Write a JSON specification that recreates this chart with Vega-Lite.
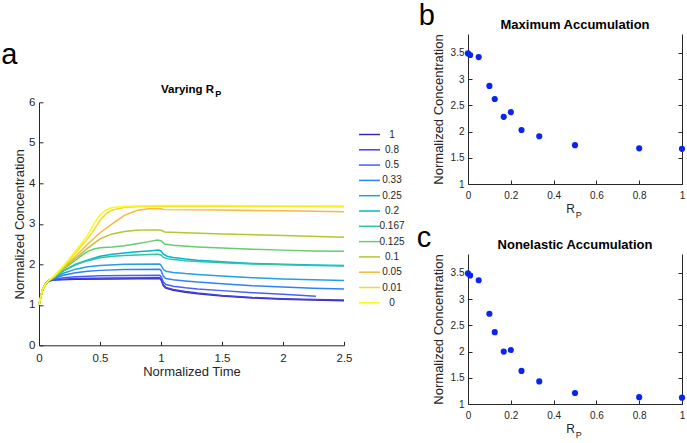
{
  "$schema": "https://vega.github.io/schema/vega-lite/v6.json",
  "padding": {"left": 1, "top": 1, "right": 2, "bottom": 2},
  "background": "white",
  "config": {
    "view": {"stroke": null},
    "font": "Liberation Sans",
    "axis": {
      "domainColor": "#262626", "tickColor": "#262626", "labelColor": "#262626", "titleColor": "#262626",
      "titleFontWeight": "normal", "grid": false, "tickSize": -4, "domainWidth": 1, "tickWidth": 1,
      "labelFont": "Liberation Sans", "titleFont": "Liberation Sans", "labelFlush": false, "labelOverlap": false
    }
  },
  "datasets": {
    "curves": [
      {"rp":"1","t":0,"c":1},{"rp":"1","t":0.015,"c":1.2},{"rp":"1","t":0.03,"c":1.38},{"rp":"1","t":0.05,"c":1.5},{"rp":"1","t":0.08,"c":1.59},{"rp":"1","t":0.12,"c":1.61},{"rp":"1","t":0.3,"c":1.63},{"rp":"1","t":0.6,"c":1.64},{"rp":"1","t":0.99,"c":1.65},{"rp":"1","t":1.0,"c":1.62},{"rp":"1","t":1.02,"c":1.47},{"rp":"1","t":1.04,"c":1.41},{"rp":"1","t":1.1,"c":1.36},{"rp":"1","t":1.2,"c":1.31},{"rp":"1","t":1.3,"c":1.27},{"rp":"1","t":1.5,"c":1.22},{"rp":"1","t":1.75,"c":1.17},{"rp":"1","t":2.0,"c":1.14},{"rp":"1","t":2.25,"c":1.12},{"rp":"1","t":2.5,"c":1.1},
      {"rp":"0.8","t":0,"c":1},{"rp":"0.8","t":0.015,"c":1.2},{"rp":"0.8","t":0.03,"c":1.38},{"rp":"0.8","t":0.05,"c":1.5},{"rp":"0.8","t":0.08,"c":1.59},{"rp":"0.8","t":0.12,"c":1.62},{"rp":"0.8","t":0.3,"c":1.65},{"rp":"0.8","t":0.6,"c":1.66},{"rp":"0.8","t":0.99,"c":1.67},{"rp":"0.8","t":1.0,"c":1.64},{"rp":"0.8","t":1.02,"c":1.49},{"rp":"0.8","t":1.04,"c":1.43},{"rp":"0.8","t":1.1,"c":1.38},{"rp":"0.8","t":1.2,"c":1.33},{"rp":"0.8","t":1.3,"c":1.29},{"rp":"0.8","t":1.5,"c":1.23},{"rp":"0.8","t":1.75,"c":1.18},{"rp":"0.8","t":2.0,"c":1.15},{"rp":"0.8","t":2.25,"c":1.13},{"rp":"0.8","t":2.5,"c":1.12},
      {"rp":"0.5","t":0,"c":1},{"rp":"0.5","t":0.015,"c":1.2},{"rp":"0.5","t":0.03,"c":1.38},{"rp":"0.5","t":0.05,"c":1.5},{"rp":"0.5","t":0.08,"c":1.6},{"rp":"0.5","t":0.12,"c":1.63},{"rp":"0.5","t":0.2,"c":1.67},{"rp":"0.5","t":0.3,"c":1.69},{"rp":"0.5","t":0.5,"c":1.72},{"rp":"0.5","t":0.99,"c":1.73},{"rp":"0.5","t":1.0,"c":1.7},{"rp":"0.5","t":1.02,"c":1.56},{"rp":"0.5","t":1.04,"c":1.5},{"rp":"0.5","t":1.1,"c":1.46},{"rp":"0.5","t":1.2,"c":1.42},{"rp":"0.5","t":1.3,"c":1.39},{"rp":"0.5","t":1.5,"c":1.35},{"rp":"0.5","t":1.75,"c":1.3},{"rp":"0.5","t":2.0,"c":1.26},{"rp":"0.5","t":2.27,"c":1.21},
      {"rp":"0.33","t":0,"c":1},{"rp":"0.33","t":0.015,"c":1.2},{"rp":"0.33","t":0.03,"c":1.38},{"rp":"0.33","t":0.05,"c":1.5},{"rp":"0.33","t":0.08,"c":1.6},{"rp":"0.33","t":0.12,"c":1.65},{"rp":"0.33","t":0.2,"c":1.73},{"rp":"0.33","t":0.3,"c":1.79},{"rp":"0.33","t":0.4,"c":1.83},{"rp":"0.33","t":0.5,"c":1.85},{"rp":"0.33","t":0.7,"c":1.87},{"rp":"0.33","t":0.99,"c":1.88},{"rp":"0.33","t":1.0,"c":1.85},{"rp":"0.33","t":1.02,"c":1.7},{"rp":"0.33","t":1.04,"c":1.65},{"rp":"0.33","t":1.1,"c":1.62},{"rp":"0.33","t":1.2,"c":1.59},{"rp":"0.33","t":1.3,"c":1.56},{"rp":"0.33","t":1.5,"c":1.52},{"rp":"0.33","t":1.75,"c":1.47},{"rp":"0.33","t":2.0,"c":1.44},{"rp":"0.33","t":2.25,"c":1.41},{"rp":"0.33","t":2.5,"c":1.39},
      {"rp":"0.25","t":0,"c":1},{"rp":"0.25","t":0.015,"c":1.2},{"rp":"0.25","t":0.03,"c":1.38},{"rp":"0.25","t":0.05,"c":1.5},{"rp":"0.25","t":0.08,"c":1.6},{"rp":"0.25","t":0.12,"c":1.66},{"rp":"0.25","t":0.2,"c":1.78},{"rp":"0.25","t":0.3,"c":1.88},{"rp":"0.25","t":0.4,"c":1.94},{"rp":"0.25","t":0.5,"c":1.97},{"rp":"0.25","t":0.7,"c":2.0},{"rp":"0.25","t":0.99,"c":2.01},{"rp":"0.25","t":1.0,"c":1.98},{"rp":"0.25","t":1.02,"c":1.87},{"rp":"0.25","t":1.04,"c":1.83},{"rp":"0.25","t":1.1,"c":1.8},{"rp":"0.25","t":1.2,"c":1.77},{"rp":"0.25","t":1.3,"c":1.75},{"rp":"0.25","t":1.5,"c":1.71},{"rp":"0.25","t":1.75,"c":1.67},{"rp":"0.25","t":2.0,"c":1.64},{"rp":"0.25","t":2.25,"c":1.62},{"rp":"0.25","t":2.5,"c":1.6},
      {"rp":"0.2","t":0,"c":1},{"rp":"0.2","t":0.015,"c":1.2},{"rp":"0.2","t":0.03,"c":1.38},{"rp":"0.2","t":0.05,"c":1.5},{"rp":"0.2","t":0.08,"c":1.6},{"rp":"0.2","t":0.12,"c":1.67},{"rp":"0.2","t":0.2,"c":1.84},{"rp":"0.2","t":0.3,"c":2.0},{"rp":"0.2","t":0.4,"c":2.11},{"rp":"0.2","t":0.5,"c":2.2},{"rp":"0.2","t":0.6,"c":2.25},{"rp":"0.2","t":0.7,"c":2.28},{"rp":"0.2","t":0.8,"c":2.31},{"rp":"0.2","t":0.9,"c":2.33},{"rp":"0.2","t":0.98,"c":2.35},{"rp":"0.2","t":1.0,"c":2.33},{"rp":"0.2","t":1.02,"c":2.25},{"rp":"0.2","t":1.05,"c":2.2},{"rp":"0.2","t":1.1,"c":2.17},{"rp":"0.2","t":1.2,"c":2.13},{"rp":"0.2","t":1.3,"c":2.1},{"rp":"0.2","t":1.5,"c":2.06},{"rp":"0.2","t":1.75,"c":2.02},{"rp":"0.2","t":2.0,"c":2.0},{"rp":"0.2","t":2.25,"c":1.98},{"rp":"0.2","t":2.5,"c":1.97},
      {"rp":"0.167","t":0,"c":1},{"rp":"0.167","t":0.015,"c":1.2},{"rp":"0.167","t":0.03,"c":1.38},{"rp":"0.167","t":0.05,"c":1.5},{"rp":"0.167","t":0.08,"c":1.6},{"rp":"0.167","t":0.12,"c":1.67},{"rp":"0.167","t":0.2,"c":1.84},{"rp":"0.167","t":0.3,"c":1.99},{"rp":"0.167","t":0.4,"c":2.09},{"rp":"0.167","t":0.5,"c":2.16},{"rp":"0.167","t":0.6,"c":2.2},{"rp":"0.167","t":0.7,"c":2.22},{"rp":"0.167","t":0.8,"c":2.23},{"rp":"0.167","t":0.9,"c":2.24},{"rp":"0.167","t":0.98,"c":2.25},{"rp":"0.167","t":1.0,"c":2.23},{"rp":"0.167","t":1.02,"c":2.17},{"rp":"0.167","t":1.05,"c":2.14},{"rp":"0.167","t":1.1,"c":2.12},{"rp":"0.167","t":1.2,"c":2.09},{"rp":"0.167","t":1.3,"c":2.07},{"rp":"0.167","t":1.5,"c":2.04},{"rp":"0.167","t":1.75,"c":2.01},{"rp":"0.167","t":2.0,"c":1.99},{"rp":"0.167","t":2.25,"c":1.97},{"rp":"0.167","t":2.5,"c":1.96},
      {"rp":"0.125","t":0,"c":1},{"rp":"0.125","t":0.015,"c":1.2},{"rp":"0.125","t":0.03,"c":1.38},{"rp":"0.125","t":0.05,"c":1.5},{"rp":"0.125","t":0.08,"c":1.6},{"rp":"0.125","t":0.12,"c":1.68},{"rp":"0.125","t":0.2,"c":1.88},{"rp":"0.125","t":0.3,"c":2.1},{"rp":"0.125","t":0.35,"c":2.22},{"rp":"0.125","t":0.4,"c":2.32},{"rp":"0.125","t":0.45,"c":2.38},{"rp":"0.125","t":0.5,"c":2.41},{"rp":"0.125","t":0.6,"c":2.43},{"rp":"0.125","t":0.7,"c":2.46},{"rp":"0.125","t":0.8,"c":2.51},{"rp":"0.125","t":0.9,"c":2.56},{"rp":"0.125","t":0.97,"c":2.6},{"rp":"0.125","t":1.0,"c":2.58},{"rp":"0.125","t":1.03,"c":2.5},{"rp":"0.125","t":1.1,"c":2.47},{"rp":"0.125","t":1.3,"c":2.43},{"rp":"0.125","t":1.5,"c":2.4},{"rp":"0.125","t":1.75,"c":2.37},{"rp":"0.125","t":2.0,"c":2.35},{"rp":"0.125","t":2.25,"c":2.33},{"rp":"0.125","t":2.5,"c":2.32},
      {"rp":"0.1","t":0,"c":1},{"rp":"0.1","t":0.015,"c":1.2},{"rp":"0.1","t":0.03,"c":1.38},{"rp":"0.1","t":0.05,"c":1.5},{"rp":"0.1","t":0.08,"c":1.6},{"rp":"0.1","t":0.12,"c":1.68},{"rp":"0.1","t":0.2,"c":1.9},{"rp":"0.1","t":0.3,"c":2.15},{"rp":"0.1","t":0.4,"c":2.4},{"rp":"0.1","t":0.5,"c":2.63},{"rp":"0.1","t":0.6,"c":2.75},{"rp":"0.1","t":0.7,"c":2.81},{"rp":"0.1","t":0.8,"c":2.84},{"rp":"0.1","t":0.9,"c":2.85},{"rp":"0.1","t":0.97,"c":2.85},{"rp":"0.1","t":1.0,"c":2.84},{"rp":"0.1","t":1.03,"c":2.8},{"rp":"0.1","t":1.2,"c":2.78},{"rp":"0.1","t":1.5,"c":2.75},{"rp":"0.1","t":2.0,"c":2.71},{"rp":"0.1","t":2.5,"c":2.67},
      {"rp":"0.05","t":0,"c":1},{"rp":"0.05","t":0.015,"c":1.2},{"rp":"0.05","t":0.03,"c":1.38},{"rp":"0.05","t":0.05,"c":1.5},{"rp":"0.05","t":0.08,"c":1.6},{"rp":"0.05","t":0.12,"c":1.69},{"rp":"0.05","t":0.2,"c":1.92},{"rp":"0.05","t":0.3,"c":2.2},{"rp":"0.05","t":0.4,"c":2.5},{"rp":"0.05","t":0.5,"c":2.78},{"rp":"0.05","t":0.6,"c":3.0},{"rp":"0.05","t":0.7,"c":3.21},{"rp":"0.05","t":0.8,"c":3.33},{"rp":"0.05","t":0.9,"c":3.37},{"rp":"0.05","t":1.0,"c":3.37},{"rp":"0.05","t":1.03,"c":3.35},{"rp":"0.05","t":1.5,"c":3.34},{"rp":"0.05","t":2.0,"c":3.32},{"rp":"0.05","t":2.5,"c":3.3},
      {"rp":"0.01","t":0,"c":1},{"rp":"0.01","t":0.015,"c":1.2},{"rp":"0.01","t":0.03,"c":1.38},{"rp":"0.01","t":0.05,"c":1.5},{"rp":"0.01","t":0.08,"c":1.6},{"rp":"0.01","t":0.12,"c":1.69},{"rp":"0.01","t":0.2,"c":1.94},{"rp":"0.01","t":0.3,"c":2.28},{"rp":"0.01","t":0.4,"c":2.64},{"rp":"0.01","t":0.45,"c":2.85},{"rp":"0.01","t":0.5,"c":3.08},{"rp":"0.01","t":0.55,"c":3.25},{"rp":"0.01","t":0.6,"c":3.34},{"rp":"0.01","t":0.7,"c":3.4},{"rp":"0.01","t":0.8,"c":3.42},{"rp":"0.01","t":1.0,"c":3.43},{"rp":"0.01","t":1.5,"c":3.43},{"rp":"0.01","t":2.5,"c":3.42},
      {"rp":"0","t":0,"c":1},{"rp":"0","t":0.015,"c":1.2},{"rp":"0","t":0.03,"c":1.38},{"rp":"0","t":0.05,"c":1.5},{"rp":"0","t":0.08,"c":1.6},{"rp":"0","t":0.12,"c":1.7},{"rp":"0","t":0.2,"c":1.96},{"rp":"0","t":0.3,"c":2.33},{"rp":"0","t":0.4,"c":2.72},{"rp":"0","t":0.45,"c":3.0},{"rp":"0","t":0.5,"c":3.22},{"rp":"0","t":0.55,"c":3.34},{"rp":"0","t":0.6,"c":3.4},{"rp":"0","t":0.7,"c":3.43},{"rp":"0","t":0.8,"c":3.44},{"rp":"0","t":1.0,"c":3.45},{"rp":"0","t":1.5,"c":3.45},{"rp":"0","t":2.5,"c":3.44}
    ],
    "maxacc": [
      {"rp":0,"v":3.49},{"rp":0.01,"v":3.46},{"rp":0.05,"v":3.42},{"rp":0.1,"v":2.87},{"rp":0.125,"v":2.62},{"rp":0.167,"v":2.28},{"rp":0.2,"v":2.37},{"rp":0.25,"v":2.03},{"rp":0.333,"v":1.91},{"rp":0.5,"v":1.74},{"rp":0.8,"v":1.68},{"rp":1,"v":1.67}
    ],
    "nonel": [
      {"rp":0,"v":3.49},{"rp":0.01,"v":3.45},{"rp":0.05,"v":3.36},{"rp":0.1,"v":2.72},{"rp":0.125,"v":2.37},{"rp":0.167,"v":2.0},{"rp":0.2,"v":2.03},{"rp":0.25,"v":1.63},{"rp":0.333,"v":1.43},{"rp":0.5,"v":1.21},{"rp":0.8,"v":1.13},{"rp":1,"v":1.12}
    ]
  },
  "spacing": 64,
  "hconcat": [
    {
      "bounds": "flush",
      "spacing": 20.3,
      "vconcat": [
        {"width": 305, "height": 48, "data": {"values": [{"s": 0}]}, "mark": {"type": "point", "opacity": 0}, "encoding": {}},
        {
          "width": 305,
          "height": 243,
          "resolve": {"axis": {"x": "independent", "y": "independent"}},
          "layer": [
            {
              "data": {"name": "curves"},
              "mark": {"type": "line", "strokeWidth": 1.5},
              "encoding": {
                "x": {"field": "t", "type": "quantitative", "scale": {"domain": [0, 2.5], "nice": false},
                      "axis": {"values": [0, 0.5, 1, 1.5, 2, 2.5], "format": "~g", "title": "Normalized Time", "titleFontSize": 13, "labelFontSize": 11.5, "labelPadding": 11, "titlePadding": 2}},
                "y": {"field": "c", "type": "quantitative", "scale": {"domain": [0, 6], "nice": false},
                      "axis": {"values": [0, 1, 2, 3, 4, 5, 6], "title": "Normalized Concentration", "titleFontSize": 13, "labelFontSize": 11.5, "labelPadding": 8, "titlePadding": 2}},
                "color": {"field": "rp", "type": "nominal",
                  "scale": {"domain": ["1", "0.8", "0.5", "0.33", "0.25", "0.2", "0.167", "0.125", "0.1", "0.05", "0.01", "0"],
                            "range": ["#3e26a8", "#473fe3", "#4660fb", "#2e82f9", "#239fe5", "#03b6cc", "#2ec4a4", "#65cd6e", "#b6c532", "#f4ba3a", "#f9d82c", "#f9fb14"]},
                  "legend": {"orient": "none", "legendX": 322, "legendY": 92, "title": null, "symbolType": "M-1.4,0H1.4", "symbolSize": 225, "symbolStrokeWidth": 1.5,
                             "labelFontSize": 10, "labelAlign": "center", "labelOffset": 14, "rowPadding": 1.3, "labelColor": "#262626", "padding": 0}}
              }
            },
            {
              "data": {"values": [{"label": "Varying R"}]},
              "mark": {"type": "text", "align": "right", "baseline": "alphabetic", "fontSize": 11.5, "fontWeight": "bold", "color": "#000000"},
              "encoding": {"text": {"field": "label"}, "x": {"datum": 1.435, "axis": null}, "y": {"datum": 6.23, "axis": null}}
            },
            {
              "data": {"values": [{"label": "P"}]},
              "mark": {"type": "text", "align": "left", "baseline": "alphabetic", "fontSize": 9, "fontWeight": "bold", "color": "#000000"},
              "encoding": {"text": {"field": "label"}, "x": {"datum": 1.445, "axis": null}, "y": {"datum": 6.14, "axis": null}}
            },
            {
              "data": {"values": [{"label": "a"}]},
              "mark": {"type": "text", "align": "left", "baseline": "alphabetic", "fontSize": 29, "color": "#000000"},
              "encoding": {"text": {"field": "label"}, "x": {"datum": -0.31, "axis": null}, "y": {"datum": 6.95, "axis": null}}
            }
          ]
        }
      ]
    },
    {
      "bounds": "flush",
      "spacing": 70,
      "vconcat": [
        {
          "width": 214,
          "height": 150,
          "resolve": {"axis": {"x": "independent", "y": "independent"}},
          "layer": [
            {
              "data": {"name": "maxacc"},
              "mark": {"type": "circle", "size": 38, "color": "#0b24f0", "opacity": 1},
              "encoding": {
                "x": {"field": "rp", "type": "quantitative", "scale": {"domain": [0, 1], "nice": false},
                      "axis": {"values": [0, 0.2, 0.4, 0.6, 0.8, 1], "format": "~g", "title": null, "labelFontSize": 10, "labelPadding": 10}},
                "y": {"field": "v", "type": "quantitative", "scale": {"domain": [1, 3.86], "nice": false},
                      "axis": {"values": [1, 1.5, 2, 2.5, 3, 3.5], "format": "~g", "title": "Normalized Concentration", "titleFontSize": 13, "labelFontSize": 10, "labelPadding": 8, "titlePadding": 5}}
              }
            },
            {
              "data": {"values": [{"label": "b"}]},
              "mark": {"type": "text", "align": "left", "baseline": "alphabetic", "fontSize": 29, "color": "#000000"},
              "encoding": {"text": {"field": "label"}, "x": {"datum": -0.23, "axis": null},
                           "y": {"datum": 4.04, "axis": {"orient": "right", "values": [1, 1.5, 2, 2.5, 3, 3.5], "labels": false, "title": null}}}
            },
            {
              "data": {"values": [{"label": "Maximum Accumulation"}]},
              "mark": {"type": "text", "align": "center", "baseline": "alphabetic", "fontSize": 13, "fontWeight": "bold", "color": "#000000"},
              "encoding": {"text": {"field": "label"}, "x": {"datum": 0.5, "axis": null}, "y": {"datum": 3.963, "axis": null}}
            },
            {
              "data": {"values": [{"label": "R"}]},
              "mark": {"type": "text", "align": "right", "baseline": "alphabetic", "fontSize": 12, "color": "#262626"},
              "encoding": {"text": {"field": "label"}, "x": {"datum": 0.5, "axis": null}, "y": {"datum": 0.447, "axis": null}}
            },
            {
              "data": {"values": [{"label": "P"}]},
              "mark": {"type": "text", "align": "left", "baseline": "alphabetic", "fontSize": 9, "color": "#262626"},
              "encoding": {"text": {"field": "label"}, "x": {"datum": 0.503, "axis": null}, "y": {"datum": 0.352, "axis": null}}
            }
          ]
        },
        {
          "width": 214,
          "height": 150,
          "resolve": {"axis": {"x": "independent", "y": "independent"}},
          "layer": [
            {
              "data": {"name": "nonel"},
              "mark": {"type": "circle", "size": 38, "color": "#0b24f0", "opacity": 1},
              "encoding": {
                "x": {"field": "rp", "type": "quantitative", "scale": {"domain": [0, 1], "nice": false},
                      "axis": {"values": [0, 0.2, 0.4, 0.6, 0.8, 1], "format": "~g", "title": null, "labelFontSize": 10, "labelPadding": 10}},
                "y": {"field": "v", "type": "quantitative", "scale": {"domain": [1, 3.86], "nice": false},
                      "axis": {"values": [1, 1.5, 2, 2.5, 3, 3.5], "format": "~g", "title": "Normalized Concentration", "titleFontSize": 13, "labelFontSize": 10, "labelPadding": 8, "titlePadding": 5}}
              }
            },
            {
              "data": {"values": [{"label": "c"}]},
              "mark": {"type": "text", "align": "left", "baseline": "alphabetic", "fontSize": 29, "color": "#000000"},
              "encoding": {"text": {"field": "label"}, "x": {"datum": -0.239, "axis": null},
                           "y": {"datum": 4.0, "axis": {"orient": "right", "values": [1, 1.5, 2, 2.5, 3, 3.5], "labels": false, "title": null}}}
            },
            {
              "data": {"values": [{"label": "Nonelastic Accumulation"}]},
              "mark": {"type": "text", "align": "center", "baseline": "alphabetic", "fontSize": 13, "fontWeight": "bold", "color": "#000000"},
              "encoding": {"text": {"field": "label"}, "x": {"datum": 0.5, "axis": null}, "y": {"datum": 3.963, "axis": null}}
            },
            {
              "data": {"values": [{"label": "R"}]},
              "mark": {"type": "text", "align": "right", "baseline": "alphabetic", "fontSize": 12, "color": "#262626"},
              "encoding": {"text": {"field": "label"}, "x": {"datum": 0.5, "axis": null}, "y": {"datum": 0.447, "axis": null}}
            },
            {
              "data": {"values": [{"label": "P"}]},
              "mark": {"type": "text", "align": "left", "baseline": "alphabetic", "fontSize": 9, "color": "#262626"},
              "encoding": {"text": {"field": "label"}, "x": {"datum": 0.503, "axis": null}, "y": {"datum": 0.352, "axis": null}}
            }
          ]
        }
      ]
    }
  ]
}
